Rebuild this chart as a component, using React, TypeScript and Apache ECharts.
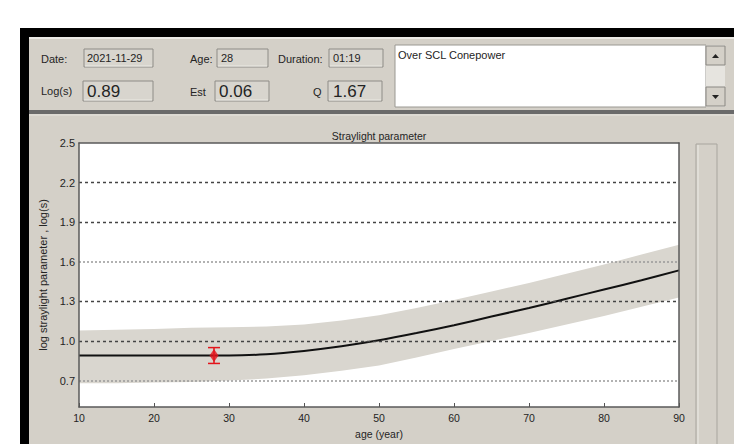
import React, { useEffect, useRef } from "react";
import * as echarts from "echarts";

// ---- data ----
const ages = [10, 15, 20, 25, 30, 35, 40, 45, 50, 55, 60, 65, 70, 75, 80, 85, 90];
const normLogS = [0.89, 0.89, 0.89, 0.89, 0.89, 0.9, 0.925, 0.96, 1.005, 1.06, 1.12, 1.185, 1.25, 1.32, 1.39, 1.46, 1.535];
const bandUpper = [1.08, 1.085, 1.09, 1.1, 1.105, 1.11, 1.125, 1.155, 1.195, 1.25, 1.31, 1.375, 1.44, 1.51, 1.58, 1.655, 1.73];
const bandLower = [0.68, 0.68, 0.685, 0.69, 0.7, 0.715, 0.74, 0.775, 0.815, 0.875, 0.94, 1.0, 1.06, 1.125, 1.19, 1.26, 1.33];
const patientAge = [28];
const patientLogS = [0.89];
const patientEst = [0.06];
const yTickLabels = [0.7, 1.0, 1.3, 1.6, 1.9, 2.2, 2.5];
const gridDark = [1.0, 1.3, 1.9, 2.2];
const gridLight = [0.7, 1.6];

const FONT = '"Liberation Sans", Arial, sans-serif';
const PANEL = "#d4d0c8";
const TXT = "#242424";
const FRAME = "#5a5a5a";

function txt(x: number, y: number, text: string, size: number, extra: any = {}) {
  return {
    type: "text",
    x,
    y,
    silent: true,
    style: { text, fill: TXT, font: `${size}px ${FONT}`, align: "left", verticalAlign: "middle", ...extra },
  };
}
function box(x: number, y: number, w: number, h: number) {
  return [
    { type: "rect", silent: true, shape: { x, y, width: w, height: h }, style: { fill: "#d8d5ce", stroke: "#8e8c87", lineWidth: 1 } },
    { type: "line", silent: true, shape: { x1: x + 1, y1: y + h - 1, x2: x + w - 1, y2: y + h - 1 }, style: { stroke: "#eceae5", lineWidth: 1 } },
  ];
}

export default function App() {
  const ref = useRef<HTMLDivElement>(null);
  useEffect(() => {
    if (!ref.current) return;
    const chart = echarts.init(ref.current, undefined, { renderer: "svg" });
    const labelSet = new Set(yTickLabels.map((v) => Math.round(v * 10)));
    const graphic: any[] = [
      { type: "rect", z: -10, silent: true, shape: { x: 0, y: 0, width: 734, height: 444 }, style: { fill: "#ffffff" } },
      { type: "rect", z: -9, silent: true, shape: { x: 20, y: 28, width: 714, height: 416 }, style: { fill: "#000000" } },
      { type: "rect", z: -8, silent: true, shape: { x: 29, y: 37, width: 705, height: 73 }, style: { fill: PANEL } },
      { type: "line", z: -7, silent: true, shape: { x1: 29, y1: 38, x2: 734, y2: 38 }, style: { stroke: "#ebe9e4", lineWidth: 2 } },
      { type: "rect", z: -8, silent: true, shape: { x: 29, y: 110, width: 705, height: 4 }, style: { fill: "#6a6a6a" } },
      { type: "rect", z: -8, silent: true, shape: { x: 29, y: 114, width: 705, height: 330 }, style: { fill: PANEL } },
      { type: "line", z: -7, silent: true, shape: { x1: 29, y1: 115, x2: 734, y2: 115 }, style: { stroke: "#e6e4de", lineWidth: 1 } },
      ...box(84, 49, 69, 18),
      ...box(217, 49, 51, 18),
      ...box(329, 49, 54, 18),
      ...box(83, 81, 70, 20),
      ...box(215, 81, 54, 20),
      ...box(328, 81, 54, 20),
      txt(41, 59, "Date:", 11),
      txt(87, 58, "2021-11-29", 11),
      txt(190, 59, "Age:", 11),
      txt(221, 58, "28", 11),
      txt(278, 59, "Duration:", 11),
      txt(333, 58, "01:19", 11),
      txt(41, 91, "Log(s)", 11),
      txt(87, 91, "0.89", 17),
      txt(190, 92, "Est", 11),
      txt(219, 91, "0.06", 17),
      txt(313, 92, "Q", 11),
      txt(333, 91, "1.67", 17),
      { type: "rect", silent: true, shape: { x: 395, y: 45, width: 311, height: 62 }, style: { fill: "#ffffff", stroke: "#9a9892", lineWidth: 1 } },
      txt(398, 55, "Over SCL Conepower", 11),
      { type: "rect", silent: true, shape: { x: 706, y: 45, width: 19, height: 62 }, style: { fill: "#e6e4df" } },
      { type: "rect", silent: true, shape: { x: 706, y: 46, width: 19, height: 19 }, style: { fill: PANEL, stroke: "#8a8883", lineWidth: 1 } },
      { type: "rect", silent: true, shape: { x: 706, y: 87, width: 19, height: 19 }, style: { fill: PANEL, stroke: "#8a8883", lineWidth: 1 } },
      { type: "polygon", silent: true, shape: { points: [[712, 58], [719, 58], [715.5, 54]] }, style: { fill: "#222" } },
      { type: "polygon", silent: true, shape: { points: [[712, 95], [719, 95], [715.5, 99]] }, style: { fill: "#222" } },
      { type: "rect", silent: true, shape: { x: 696, y: 144, width: 21, height: 305 }, style: { fill: PANEL, stroke: "#a8a59e", lineWidth: 1 } },
      { type: "line", silent: true, shape: { x1: 698, y1: 145, x2: 698, y2: 444 }, style: { stroke: "#ecebe6", lineWidth: 1 } },
    ];

    const gridLines = [
      ...gridDark.map((v) => ({ yAxis: v, lineStyle: { color: "#444444", type: [3, 3], width: 1.3 } })),
      ...gridLight.map((v) => ({ yAxis: v, lineStyle: { color: "#999999", type: [2, 2], width: 1.6 } })),
    ];

    const frameAxisX = (pos: string) => ({
      type: "value",
      position: pos,
      min: 10,
      max: 90,
      interval: 10,
      z: 10,
      axisLine: { show: true, onZero: false, lineStyle: { color: FRAME, width: 1.5 } },
      splitLine: { show: false },
    });
    const frameAxisY = (pos: string) => ({
      type: "value",
      position: pos,
      min: 0.5,
      max: 2.5,
      interval: 0.1,
      z: 10,
      axisLine: { show: true, onZero: false, lineStyle: { color: FRAME, width: 1.5 } },
      splitLine: { show: false },
    });

    chart.setOption({
      animation: false,
      backgroundColor: "transparent",
      textStyle: { fontFamily: FONT },
      graphic,
      title: {
        text: "Straylight parameter",
        left: 379,
        top: 130,
        padding: 0,
        textAlign: "center",
        textStyle: { fontSize: 10.5, fontWeight: "normal", color: TXT, fontFamily: FONT },
      },
      grid: {
        left: 79,
        top: 143,
        right: 55,
        bottom: 36,
        show: true,
        backgroundColor: "#ffffff",
        borderColor: FRAME,
        borderWidth: 0,
        containLabel: false,
      },
      xAxis: [
        {
          ...frameAxisX("bottom"),
          name: "age (year)",
          nameLocation: "middle",
          nameGap: 21,
          nameTextStyle: { fontSize: 10.5, color: TXT, fontFamily: FONT },
          axisTick: { show: true, inside: true, length: 4, lineStyle: { color: "#555" } },
          axisLabel: { fontSize: 10.5, color: TXT, margin: 5, fontFamily: FONT },
        },
        { ...frameAxisX("top"), axisTick: { show: false }, axisLabel: { show: false } },
      ],
      yAxis: [
        {
          ...frameAxisY("left"),
          name: "log straylight parameter , log(s)",
          nameLocation: "middle",
          nameGap: 21,
          nameTextStyle: { fontSize: 11, color: TXT, fontFamily: FONT },
          axisTick: { show: false },
          axisLabel: {
            fontSize: 11,
            color: TXT,
            margin: 4,
            fontFamily: FONT,
            formatter: (v: number) => (labelSet.has(Math.round(v * 10)) ? v.toFixed(1) : ""),
          },
        },
        { ...frameAxisY("right"), axisTick: { show: false }, axisLabel: { show: false } },
      ],
      series: [
        {
          type: "custom",
          data: ages.map((a, i) => [a, bandLower[i], bandUpper[i]]),
          encode: { x: 0, y: [1, 2] },
          clip: true,
          silent: true,
          z: 2,
          renderItem: (params: any, api: any) => {
            if (params.dataIndex !== 0) return null;
            const top = ages.map((a, i) => api.coord([a, bandUpper[i]]));
            const bottom = ages.map((a, i) => api.coord([a, bandLower[i]])).reverse();
            return {
              type: "polygon",
              shape: { points: [...top, ...bottom] },
              style: { fill: "#d9d6cf" },
            };
          },
        },
        {
          type: "line",
          data: ages.map((a, i) => [a, normLogS[i]]),
          symbol: "none",
          smooth: 0.3,
          lineStyle: { color: "#111111", width: 2 },
          silent: true,
          z: 4,
          markLine: {
            silent: true,
            symbol: "none",
            label: { show: false },
            data: gridLines,
          },
        },
        {
          type: "custom",
          data: patientAge.map((a, i) => [a, patientLogS[i] - patientEst[i], patientLogS[i] + patientEst[i]]),
          encode: { x: 0, y: [1, 2] },
          z: 6,
          silent: true,
          renderItem: (_params: any, api: any) => {
            const x = api.value(0);
            const lo = api.coord([x, api.value(1)]);
            const hi = api.coord([x, api.value(2)]);
            const style = { stroke: "#e3141b", lineWidth: 1.5 };
            return {
              type: "group",
              children: [
                { type: "line", shape: { x1: lo[0], y1: lo[1], x2: hi[0], y2: hi[1] }, style },
                { type: "line", shape: { x1: lo[0] - 6, y1: lo[1], x2: lo[0] + 6, y2: lo[1] }, style },
                { type: "line", shape: { x1: hi[0] - 6, y1: hi[1], x2: hi[0] + 6, y2: hi[1] }, style },
              ],
            };
          },
        },
        {
          type: "scatter",
          data: patientAge.map((a, i) => [a, patientLogS[i]]),
          symbol: "diamond",
          symbolSize: [9, 13],
          itemStyle: { color: "#e3141b" },
          silent: true,
          z: 7,
        },
      ],
    });
    return () => chart.dispose();
  }, []);
  return <div ref={ref} style={{ position: "absolute", left: 0, top: 0, width: 734, height: 444 }} />;
}
